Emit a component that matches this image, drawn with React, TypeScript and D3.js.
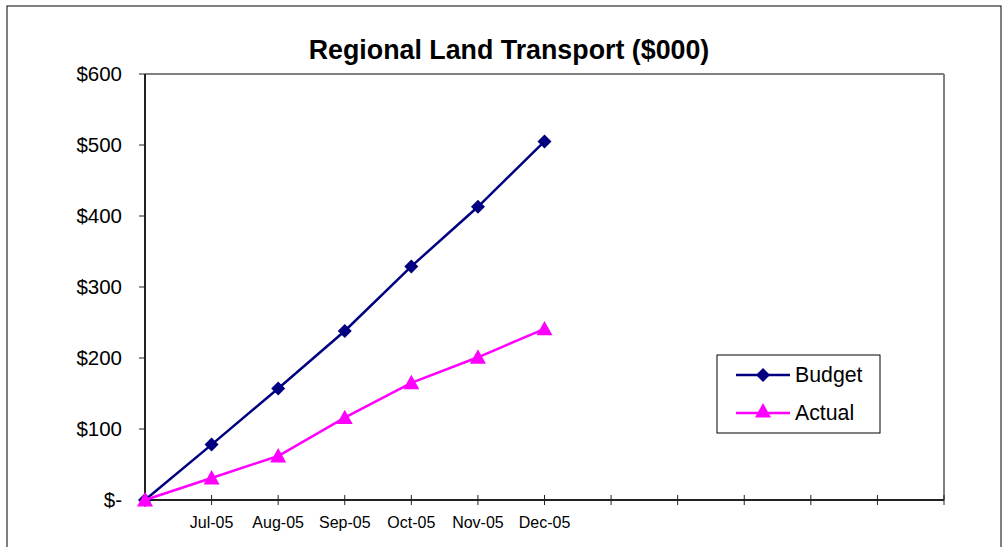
import React from "react";
import * as d3 from "d3";

const categories = ["", "Jul-05", "Aug-05", "Sep-05", "Oct-05", "Nov-05", "Dec-05", "", "", "", "", "", ""];
const budget = [0, 78, 157, 238, 329, 413, 505];
const actual = [0, 31, 62, 116, 165, 201, 241];
const yTicks = [0, 100, 200, 300, 400, 500, 600];

const W = 1002;
const H = 547;
const plot = { left: 145, right: 944, top: 74, bottom: 500 };
const font = "'Liberation Sans', Arial, sans-serif";

export default function App() {
  const x = d3
    .scalePoint<number>()
    .domain(categories.map((_, i) => i))
    .range([plot.left, plot.right]);
  const y = d3.scaleLinear().domain([0, 600]).range([plot.bottom, plot.top]);

  const line = d3
    .line<number>()
    .x((_, i) => x(i)!)
    .y((d) => y(d));

  const fmt = (v: number) => (v === 0 ? "$-" : `$${v}`);

  const diamond = (cx: number, cy: number, r = 7) =>
    `M${cx},${cy - r}L${cx + r},${cy}L${cx},${cy + r}L${cx - r},${cy}Z`;
  const triangle = (cx: number, cy: number, r = 8) =>
    `M${cx},${cy - r}L${cx + r},${cy + r * 0.8}L${cx - r},${cy + r * 0.8}Z`;

  const legend = { x: 717, y: 355, w: 163, h: 78 };

  return (
    <svg
      width={W}
      height={H}
      style={{ position: "absolute", left: 0, top: 0, background: "#fff" }}
      fontFamily={font}
    >
      <rect x={7} y={6} width={994} height={560} fill="#fff" stroke="#000" strokeWidth={1} />

      <text x={509} y={59} textAnchor="middle" fontSize={26.8} fontWeight="bold">
        Regional Land Transport ($000)
      </text>

      {/* plot area frame */}
      <line x1={plot.left} x2={plot.right} y1={plot.top} y2={plot.top} stroke="#808080" strokeWidth={2} />
      <line x1={plot.right} x2={plot.right} y1={plot.top} y2={plot.bottom} stroke="#808080" strokeWidth={2} />

      {/* y axis */}
      <line x1={plot.left} x2={plot.left} y1={plot.top} y2={plot.bottom} stroke="#222" strokeWidth={2} />
      {yTicks.map((t) => (
        <g key={t}>
          <line x1={plot.left - 6} x2={plot.left} y1={y(t)} y2={y(t)} stroke="#222" strokeWidth={1} />
          <text x={122} y={y(t)} dy="0.35em" textAnchor="end" fontSize={20.5}>
            {fmt(t)}
          </text>
        </g>
      ))}

      {/* x axis */}
      <line x1={plot.left} x2={plot.right} y1={plot.bottom} y2={plot.bottom} stroke="#222" strokeWidth={2} />
      {categories.map((c, i) => (
        <g key={i}>
          <line x1={x(i)!} x2={x(i)!} y1={plot.bottom - 5} y2={plot.bottom + 5} stroke="#222" strokeWidth={1} />
          {c && (
            <text x={x(i)!} y={528} textAnchor="middle" fontSize={16}>
              {c}
            </text>
          )}
        </g>
      ))}

      {/* series */}
      <path d={line(budget) ?? ""} fill="none" stroke="#000080" strokeWidth={2.5} />
      {budget.map((v, i) => (
        <path key={i} d={diamond(x(i)!, y(v))} fill="#000080" />
      ))}
      <path d={line(actual) ?? ""} fill="none" stroke="#FF00FF" strokeWidth={2.5} />
      {actual.map((v, i) => (
        <path key={i} d={triangle(x(i)!, y(v))} fill="#FF00FF" />
      ))}

      {/* legend */}
      <rect x={legend.x} y={legend.y} width={legend.w} height={legend.h} fill="#fff" stroke="#000" strokeWidth={1} />
      <line x1={736} x2={790} y1={375} y2={375} stroke="#000080" strokeWidth={2.5} />
      <path d={diamond(763, 375)} fill="#000080" />
      <text x={795} y={375} dy="0.35em" fontSize={21.3}>
        Budget
      </text>
      <line x1={736} x2={790} y1={413} y2={413} stroke="#FF00FF" strokeWidth={2.5} />
      <path d={triangle(763, 411)} fill="#FF00FF" />
      <text x={795} y={413} dy="0.35em" fontSize={21.3}>
        Actual
      </text>
    </svg>
  );
}
